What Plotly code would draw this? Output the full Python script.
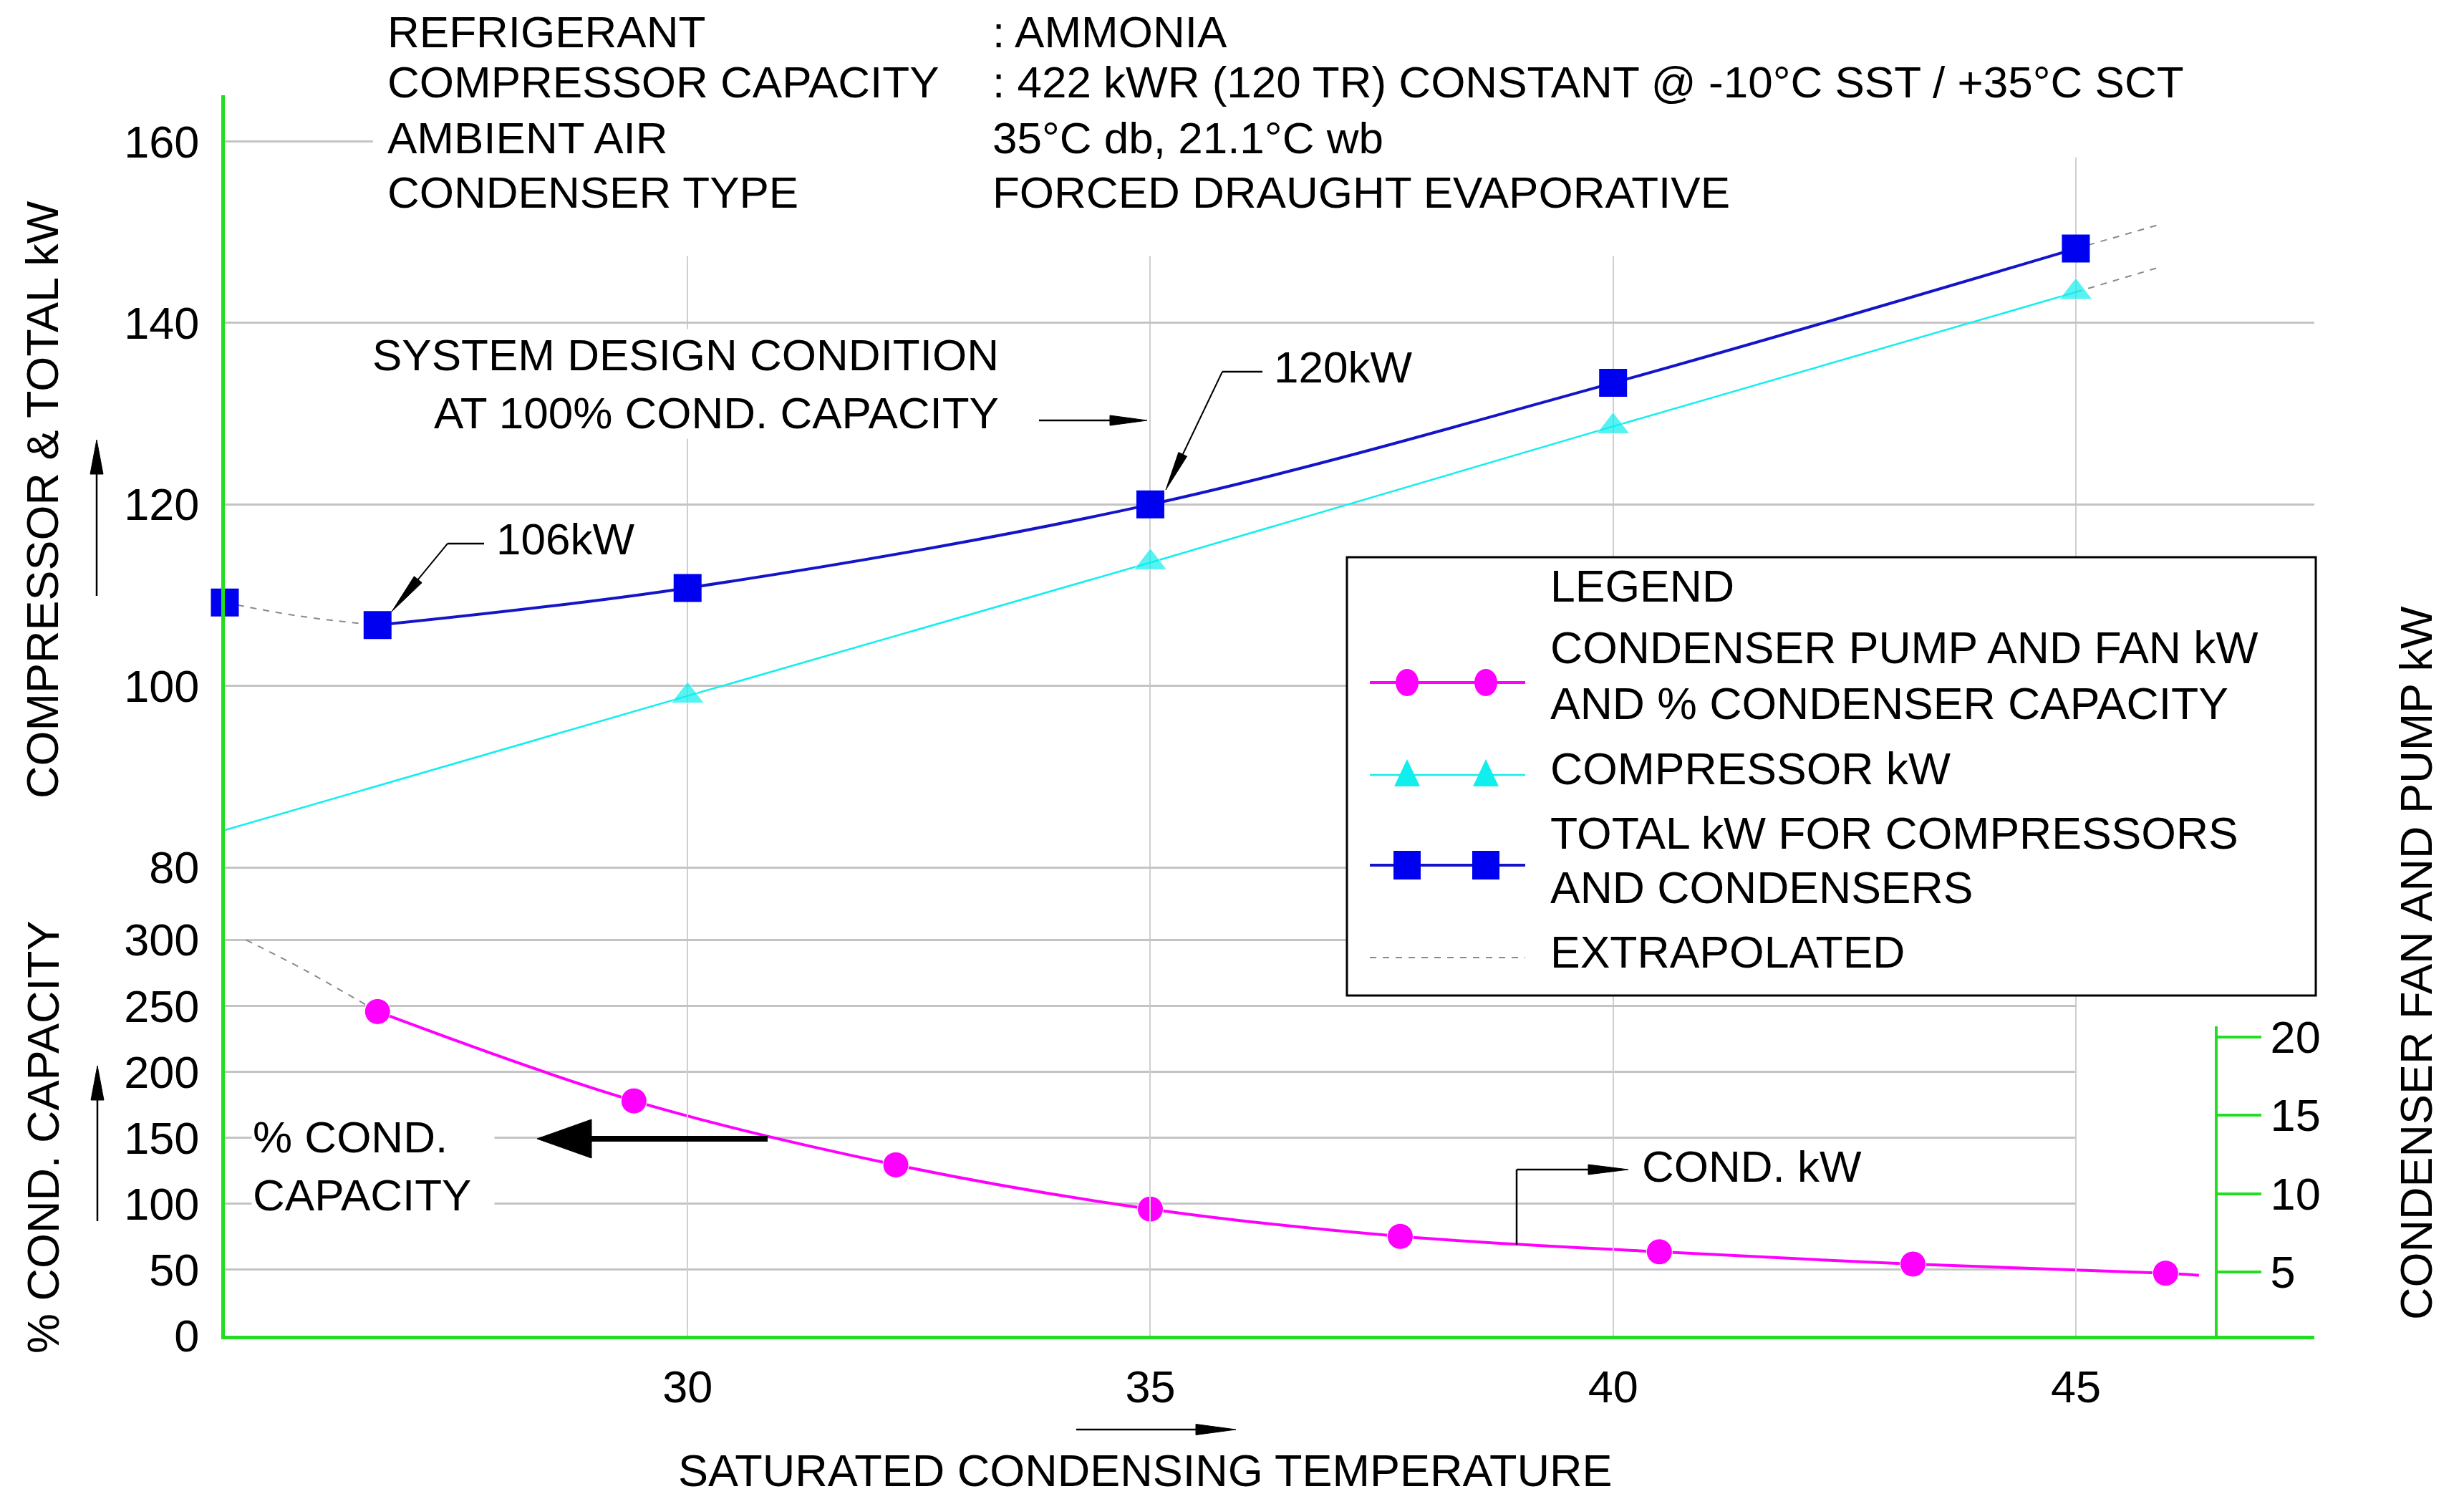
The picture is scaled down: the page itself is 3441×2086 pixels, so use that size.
import math
import plotly.graph_objects as go

# ---------------- data ----------------
# total kW for compressors and condensers (blue squares)
total_x = [26.65, 30.0, 35.0, 40.0, 45.0]
total_y = [106.7, 110.8, 120.0, 133.4, 148.2]
total_ext_lo_x = [25.0, 25.8, 26.65]
total_ext_lo_y = [109.2, 107.7, 106.7]
total_ext_hi_x = [45.0, 45.92]
total_ext_hi_y = [148.2, 150.9]
total_edge_x = [25.0]
total_edge_y = [109.2]

# compressor kW (cyan triangles)
comp_x = [25.0, 30.0, 35.0, 40.0, 45.0]
comp_y = [84.1, 98.9, 113.6, 128.6, 143.4]
comp_marker = [False, True, True, True, True]
comp_ext_x = [45.0, 45.92]
comp_ext_y = [143.4, 146.2]

# condenser pump & fan kW and % condenser capacity (magenta)
cond_x = [26.65, 29.42, 32.25, 35.0, 37.7, 40.5, 43.24, 45.97, 46.33]
cond_pct = [245.7, 178.0, 129.5, 96.0, 75.3, 63.6, 54.3, 47.4, 45.8]
cond_marker = [True, True, True, True, True, True, True, True, False]
cond_ext_x = [25.23, 25.88, 26.65]
cond_ext_pct = [300.0, 276.5, 245.7]

x_ticks = [30, 35, 40, 45]
top_ticks = [80, 100, 120, 140, 160]
pct_ticks = [0, 50, 100, 150, 200, 250, 300]
kw_ticks = [5, 10, 15, 20]

header_labels = ["REFRIGERANT", "COMPRESSOR CAPACITY", "AMBIENT AIR", "CONDENSER TYPE"]
header_values = [": AMMONIA", ": 422 kWR (120 TR) CONSTANT @ -10°C SST / +35°C SCT",
                 "35°C db, 21.1°C wb", "FORCED DRAUGHT EVAPORATIVE"]

# ---------------- layout geometry ----------------
W, H = 3441, 2086
L, R, T, B = 306, 217, 125, 229
PW = W - L - R
PH = H - T - B
FONT = "Liberation Sans, Arial, sans-serif"
FS = 62
GREEN = "#22dd22"
BLUE = "#0000f0"
BLUE_LINE = "#1414c8"
CYAN = "#11eeee"
MAGENTA = "#ff00ff"
GRAY = "#8a8a8a"
DX, DY = -9, -10   # text placement correction


def px(x):
    return (x - L) / PW


def py(y):
    return (H - B - y) / PH


split = (H - B - 1205) / PH
shapes = []
annotations = []


def seg(x0, y0, x1, y1, width=2.5, color="black", dash=None):
    d = dict(type="line", xref="paper", yref="paper",
             x0=px(x0), y0=py(y0), x1=px(x1), y1=py(y1),
             line=dict(color=color, width=width), layer="above")
    if dash:
        d["line"]["dash"] = dash
    shapes.append(d)


def arrow(x0, y0, x1, y1, width=2.5, head_len=50, head_w=14, color="black"):
    dx, dy = x1 - x0, y1 - y0
    d = math.hypot(dx, dy)
    ux, uy = dx / d, dy / d
    bx, by = x1 - ux * head_len, y1 - uy * head_len
    nx, ny = -uy, ux
    seg(x0, y0, bx + ux * 2, by + uy * 2, width, color)
    p1 = (bx + nx * head_w / 2, by + ny * head_w / 2)
    p2 = (bx - nx * head_w / 2, by - ny * head_w / 2)
    path = "M {},{} L {},{} L {},{} Z".format(px(x1), py(y1), px(p1[0]), py(p1[1]),
                                               px(p2[0]), py(p2[1]))
    shapes.append(dict(type="path", xref="paper", yref="paper", path=path,
                       fillcolor=color, line=dict(color=color, width=1), layer="above"))


def text(x, y, s, xanchor="left", size=FS, align="left", bg=None, angle=0, width=None, pad=1):
    ox = DX if xanchor == "left" else (-4 if xanchor == "right" else 0)
    a = dict(xref="paper", yref="paper", x=px(x + ox), y=py(y + DY), text=s, showarrow=False,
             xanchor=xanchor, yanchor="middle", align=align, textangle=angle, borderpad=pad,
             font=dict(family=FONT, size=size, color="black"))
    if bg:
        a["bgcolor"] = bg
    if width:
        a["width"] = width
    annotations.append(a)


def vtext(x, y, s, size=63):
    annotations.append(dict(xref="paper", yref="paper", x=px(x), y=py(y), text=s,
                            showarrow=False, xanchor="center", yanchor="middle",
                            textangle=-90, font=dict(family=FONT, size=size, color="black")))


fig = go.Figure()

# ---------------- traces ----------------
dash_line = dict(color=GRAY, width=2, dash="dash")
fig.add_trace(go.Scatter(x=total_ext_lo_x, y=total_ext_lo_y, mode="lines", line=dict(shape="spline", **dash_line),
                         yaxis="y", showlegend=False, hoverinfo="skip", cliponaxis=False))
fig.add_trace(go.Scatter(x=total_ext_hi_x, y=total_ext_hi_y, mode="lines", line=dash_line,
                         yaxis="y", showlegend=False, hoverinfo="skip"))
fig.add_trace(go.Scatter(x=comp_ext_x, y=comp_ext_y, mode="lines", line=dash_line,
                         yaxis="y", showlegend=False, hoverinfo="skip"))
fig.add_trace(go.Scatter(x=cond_ext_x, y=cond_ext_pct, mode="lines", line=dict(shape="spline", **dash_line),
                         yaxis="y2", showlegend=False, hoverinfo="skip"))

fig.add_trace(go.Scatter(x=comp_x, y=comp_y, mode="lines+markers",
                         line=dict(color=CYAN, width=2.5),
                         marker=dict(symbol="triangle-up", color=CYAN,
                                     size=[40 if m else 0 for m in comp_marker]),
                         yaxis="y", showlegend=False, cliponaxis=False))
fig.add_trace(go.Scatter(x=total_x, y=total_y, mode="lines+markers",
                         line=dict(color=BLUE_LINE, width=4, shape="spline"),
                         marker=dict(symbol="square", color=BLUE, size=39),
                         yaxis="y", showlegend=False, cliponaxis=False))
fig.add_trace(go.Scatter(x=total_edge_x, y=total_edge_y, mode="markers",
                         marker=dict(symbol="square", color=BLUE, size=39),
                         yaxis="y", showlegend=False, cliponaxis=False))
fig.add_trace(go.Scatter(x=cond_x, y=cond_pct, mode="lines+markers",
                         line=dict(color=MAGENTA, width=4, shape="spline"),
                         marker=dict(symbol="circle", color=MAGENTA, opacity=1,
                                     size=[36 if m else 0 for m in cond_marker]),
                         yaxis="y2", showlegend=False, cliponaxis=False))
# anchor trace for the condenser kW axis
fig.add_trace(go.Scatter(x=[35], y=[10], mode="none", yaxis="y3", showlegend=False, hoverinfo="skip"))

# ---------------- masks (above gridlines, below traces) ----------------
shapes.append(dict(type="rect", xref="x", yref="y", x0=26.6, x1=47.6, y0=158.25, y1=166,
                   fillcolor="white", line=dict(width=0), layer="between"))
shapes.append(dict(type="rect", xref="x", yref="y", x0=26.6, x1=44.95, y0=147.4, y1=158.3,
                   fillcolor="white", line=dict(width=0), layer="between"))
shapes.append(dict(type="rect", xref="x", yref="y2", x0=45.01, x1=47.6, y0=2, y1=352,
                   fillcolor="white", line=dict(width=0), layer="between"))

# ---------------- header ----------------
header_y = [46, 116, 194, 270]
for lab, val, yy in zip(header_labels, header_values, header_y):
    text(541, yy, lab, pad=0)
    text(1386, yy, val, pad=0)

# ---------------- callouts ----------------
text(1393, 538, "SYSTEM DESIGN CONDITION<br>AT 100% COND. CAPACITY", xanchor="right",
     align="right", bg="white")
arrow(1443, 579, 1594, 579, width=2.5, head_len=52, head_w=14)

text(1778, 514, "120kW")
seg(1755, 511, 1699, 511)
arrow(1699, 511, 1620, 676, width=2, head_len=55, head_w=13)

text(692, 754, "106kW")
seg(668, 751, 617, 751)
arrow(617, 751, 539, 846, width=2, head_len=58, head_w=14)

text(352, 1630, "% COND.<br>CAPACITY", bg="white", width=336)
arrow(1064, 1582, 742, 1582, width=8, head_len=76, head_w=54)

text(2292, 1630, "COND. kW")
seg(2110, 1730, 2110, 1625)
arrow(2110, 1625, 2266, 1625, width=2.5, head_len=56, head_w=14)

# ---------------- axis titles ----------------
vtext(51, 690, "COMPRESSOR & TOTAL kW")
arrow(127, 824, 127, 606, width=2.5, head_len=48, head_w=18)
vtext(52, 1580, "% COND. CAPACITY")
arrow(128, 1697, 128, 1480, width=2.5, head_len=48, head_w=18)
vtext(3366, 1337, "CONDENSER FAN AND PUMP kW")
text(1591, 2055, "SATURATED CONDENSING TEMPERATURE", xanchor="center", align="center", size=63, pad=0)
arrow(1495, 1988, 1718, 1988, width=2.5, head_len=56, head_w=15)

# ---------------- legend ----------------
shapes.append(dict(type="rect", xref="paper", yref="paper", x0=px(1873), x1=px(3226),
                   y0=py(1382), y1=py(770), fillcolor="white",
                   line=dict(color="black", width=3), layer="above"))
LFS = 62.5
text(2164, 820, "LEGEND", size=LFS)
text(2164, 906, "CONDENSER PUMP AND FAN kW", size=LFS)
text(2164, 984, "AND % CONDENSER CAPACITY", size=LFS)
text(2164, 1075, "COMPRESSOR kW", size=LFS)
text(2164, 1165, "TOTAL kW FOR COMPRESSORS", size=LFS)
text(2164, 1241, "AND CONDENSERS", size=LFS)
text(2164, 1331, "EXTRAPOLATED", size=LFS)

seg(1905, 945, 2122, 945, width=4, color=MAGENTA)
seg(1905, 1074, 2122, 1074, width=2.5, color=CYAN)
seg(1905, 1200, 2122, 1200, width=4, color=BLUE_LINE)
seg(1905, 1329, 2122, 1329, width=2, color=GRAY, dash="dash")
for cx in (1957, 2067):
    shapes.append(dict(type="circle", xref="paper", yref="paper",
                       x0=px(cx - 16), x1=px(cx + 16), y0=py(945 + 19), y1=py(945 - 19),
                       fillcolor=MAGENTA, line=dict(width=0), layer="above"))
    shapes.append(dict(type="path", xref="paper", yref="paper",
                       path="M {},{} L {},{} L {},{} Z".format(px(cx), py(1052), px(cx - 18), py(1090),
                                                               px(cx + 18), py(1090)),
                       fillcolor=CYAN, line=dict(width=0), layer="above"))
    shapes.append(dict(type="rect", xref="paper", yref="paper",
                       x0=px(cx - 19), x1=px(cx + 19), y0=py(1220), y1=py(1180),
                       fillcolor=BLUE, line=dict(width=0), layer="above"))

# ---------------- axes ----------------
tickfont = dict(family=FONT, size=63, color="black")
fig.update_layout(
    width=W, height=H,
    margin=dict(l=L, r=R, t=T, b=B, pad=0),
    paper_bgcolor="white", plot_bgcolor="rgba(0,0,0,0)",
    showlegend=False,
    font=dict(family=FONT, size=FS, color="black"),
    xaxis=dict(domain=[0, 1], range=[25, 47.577], anchor="y2",
               tickmode="array", tickvals=x_ticks, ticks="",
               showgrid=True, gridcolor="#cfcfcf", gridwidth=1.5,
               showline=True, linecolor=GREEN, linewidth=5,
               zeroline=False, tickfont=tickfont, ticklabelstandoff=12),
    yaxis=dict(domain=[split, 1], range=[79.85, 165.1], anchor="x",
               tickmode="array", tickvals=top_ticks, ticks="",
               showgrid=True, gridcolor="#c4c4c4", gridwidth=2.5,
               showline=True, linecolor=GREEN, linewidth=5,
               zeroline=False, tickfont=tickfont, ticklabelstandoff=18),
    yaxis2=dict(domain=[0, split], range=[0, 353.96], anchor="x",
                tickmode="array", tickvals=pct_ticks, ticks="",
                showgrid=True, gridcolor="#c4c4c4", gridwidth=2.5,
                showline=True, linecolor=GREEN, linewidth=5,
                zeroline=False, tickfont=tickfont, ticklabelstandoff=18),
    yaxis3=dict(domain=[0, (H - B - 1425) / PH], range=[0.937, 20.68],
                anchor="free", position=px(3087), side="right",
                tickmode="array", tickvals=kw_ticks, ticks="outside",
                ticklen=61, tickwidth=4, tickcolor=GREEN,
                showgrid=False, showline=True, linecolor=GREEN, linewidth=4,
                zeroline=False, tickfont=tickfont, ticklabelstandoff=0),
    shapes=shapes,
    annotations=annotations,
)

fig.write_html("out.html")
